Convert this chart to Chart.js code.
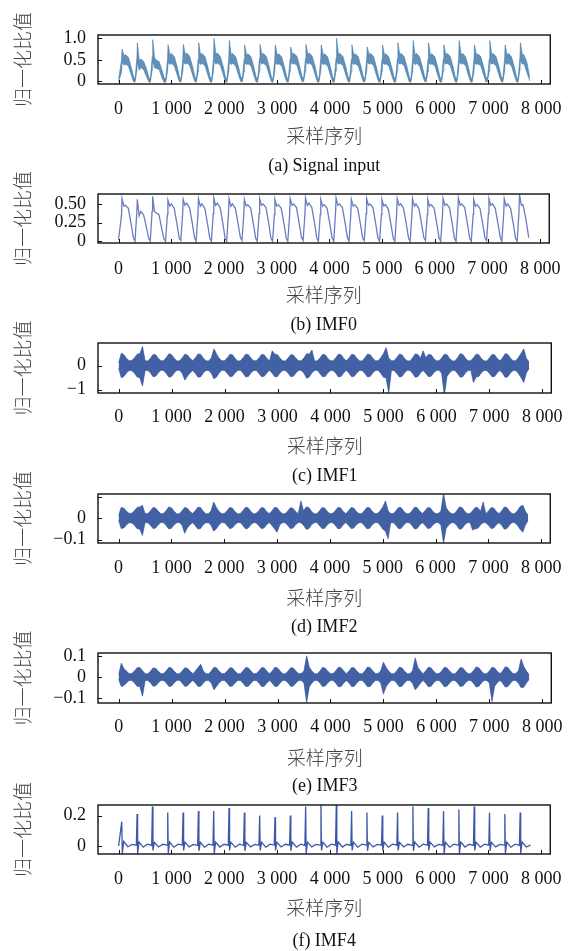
<!DOCTYPE html>
<html>
<head>
<meta charset="utf-8">
<script src="https://cdn.jsdelivr.net/npm/chart.js@4.4.1/dist/chart.umd.min.js"></script>
<style>
html, body { margin: 0; padding: 0; background: #fff; width: 576px; height: 951px; overflow: hidden; }
canvas { position: absolute; left: 0; }
</style>
</head>
<body>
<script>
// x axis (sample index)
var xTickVals = [0, 1000, 2000, 3000, 4000, 5000, 6000, 7000, 8000];
var xTickLabels = ['0', '1 000', '2 000', '3 000', '4 000', '5 000', '6 000', '7 000', '8 000'];

// y ticks per panel
var yTicksA = [0, 0.5, 1.0];      var yLabelsA = ['0', '0.5', '1.0'];
var yTicksB = [0, 0.25, 0.5];     var yLabelsB = ['0', '0.25', '0.50'];
var yTicksC = [-1, 0];            var yLabelsC = ['\u22121', '0'];
var yTicksD = [-0.1, 0, 0.1];     var yLabelsD = ['\u22120.1', '0', ''];
var yTicksE = [-0.1, 0, 0.1];     var yLabelsE = ['\u22120.1', '0', '0.1'];
var yTicksF = [0, 0.2];           var yLabelsF = ['0', '0.2'];

var captions = ['(a) Signal input', '(b) IMF0', '(c) IMF1', '(d) IMF2', '(e) IMF3', '(f) IMF4'];

// key samples of each beat (trough, rise, peak, dip, bump, plateau, fall, fall)
var beatX = [
  0, 56, 66, 101, 131, 186, 241, 281,
  311, 346, 356, 391, 421, 476, 531, 571,
  601, 636, 646, 681, 711, 766, 821, 861,
  891, 926, 936, 971, 1001, 1056, 1111, 1151,
  1181, 1216, 1226, 1261, 1291, 1346, 1401, 1441,
  1471, 1506, 1516, 1551, 1581, 1636, 1691, 1731,
  1761, 1796, 1806, 1841, 1871, 1926, 1981, 2021,
  2051, 2086, 2096, 2131, 2161, 2216, 2271, 2311,
  2341, 2376, 2386, 2421, 2451, 2506, 2561, 2601,
  2631, 2666, 2676, 2711, 2741, 2796, 2851, 2891,
  2921, 2956, 2966, 3001, 3031, 3086, 3141, 3181,
  3211, 3246, 3256, 3291, 3321, 3376, 3431, 3471,
  3501, 3536, 3546, 3581, 3611, 3666, 3721, 3761,
  3791, 3826, 3836, 3871, 3901, 3956, 4011, 4051,
  4081, 4116, 4126, 4161, 4191, 4246, 4301, 4341,
  4371, 4406, 4416, 4451, 4481, 4536, 4591, 4631,
  4661, 4696, 4706, 4741, 4771, 4826, 4881, 4921,
  4951, 4986, 4996, 5031, 5061, 5116, 5171, 5211,
  5241, 5276, 5286, 5321, 5351, 5406, 5461, 5501,
  5531, 5566, 5576, 5611, 5641, 5696, 5751, 5791,
  5821, 5856, 5866, 5901, 5931, 5986, 6041, 6081,
  6111, 6146, 6156, 6191, 6221, 6276, 6331, 6371,
  6401, 6436, 6446, 6481, 6511, 6566, 6621, 6661,
  6691, 6726, 6736, 6771, 6801, 6856, 6911, 6951,
  6981, 7016, 7026, 7061, 7091, 7146, 7201, 7241,
  7271, 7306, 7316, 7351, 7381, 7436, 7491, 7531,
  7561, 7596, 7606, 7641, 7671, 7726, 7781
];

// (a) signal input: upper / lower edge of the noisy trace
var signalHi = [
  0.05, 0.50, 0.75, 0.60, 0.62, 0.56, 0.32, 0.12,
  0.05, 0.55, 0.90, 0.48, 0.52, 0.46, 0.28, 0.10,
  0.05, 0.58, 0.97, 0.55, 0.50, 0.46, 0.26, 0.09,
  0.05, 0.52, 0.85, 0.62, 0.65, 0.57, 0.33, 0.11,
  0.06, 0.53, 0.86, 0.63, 0.66, 0.58, 0.34, 0.12,
  0.05, 0.52, 0.90, 0.62, 0.65, 0.57, 0.33, 0.11,
  0.05, 0.54, 1.00, 0.63, 0.66, 0.58, 0.34, 0.11,
  0.05, 0.55, 0.95, 0.62, 0.65, 0.57, 0.33, 0.12,
  0.06, 0.52, 0.85, 0.62, 0.64, 0.57, 0.33, 0.11,
  0.05, 0.53, 0.86, 0.63, 0.65, 0.58, 0.34, 0.11,
  0.05, 0.52, 0.85, 0.62, 0.64, 0.57, 0.33, 0.11,
  0.05, 0.53, 0.80, 0.63, 0.65, 0.58, 0.33, 0.12,
  0.06, 0.53, 0.86, 0.63, 0.66, 0.58, 0.34, 0.11,
  0.05, 0.52, 0.85, 0.62, 0.64, 0.57, 0.33, 0.11,
  0.05, 0.55, 1.00, 0.63, 0.65, 0.58, 0.34, 0.12,
  0.05, 0.52, 0.85, 0.62, 0.64, 0.57, 0.33, 0.11,
  0.06, 0.53, 0.80, 0.63, 0.65, 0.58, 0.33, 0.11,
  0.05, 0.52, 0.85, 0.62, 0.64, 0.56, 0.32, 0.11,
  0.05, 0.53, 0.90, 0.63, 0.65, 0.57, 0.33, 0.11,
  0.05, 0.53, 0.95, 0.62, 0.65, 0.57, 0.33, 0.12,
  0.06, 0.52, 0.90, 0.62, 0.64, 0.57, 0.33, 0.11,
  0.05, 0.53, 0.85, 0.63, 0.65, 0.58, 0.34, 0.11,
  0.05, 0.53, 0.95, 0.63, 0.65, 0.58, 0.33, 0.11,
  0.05, 0.52, 0.85, 0.62, 0.64, 0.57, 0.33, 0.11,
  0.06, 0.53, 0.95, 0.63, 0.65, 0.57, 0.33, 0.12,
  0.05, 0.53, 0.85, 0.62, 0.65, 0.57, 0.33, 0.11,
  0.05, 0.56, 0.90, 0.63, 0.62, 0.45, 0.10
];
var signalLo = [
  -0.01, 0.22, 0.45, 0.38, 0.40, 0.36, 0.14, 0.00,
  -0.02, 0.25, 0.45, 0.26, 0.32, 0.27, 0.10, -0.01,
  -0.02, 0.27, 0.48, 0.32, 0.30, 0.28, 0.08, -0.02,
  -0.02, 0.23, 0.44, 0.39, 0.42, 0.36, 0.14, -0.01,
  -0.01, 0.24, 0.45, 0.40, 0.43, 0.37, 0.15, 0.00,
  -0.02, 0.23, 0.45, 0.39, 0.42, 0.36, 0.14, -0.01,
  -0.02, 0.24, 0.46, 0.40, 0.43, 0.37, 0.15, -0.01,
  -0.02, 0.25, 0.45, 0.39, 0.42, 0.36, 0.14, 0.00,
  -0.01, 0.23, 0.44, 0.39, 0.41, 0.36, 0.14, -0.01,
  -0.02, 0.24, 0.45, 0.40, 0.42, 0.37, 0.15, -0.01,
  -0.02, 0.23, 0.44, 0.39, 0.41, 0.36, 0.14, -0.01,
  -0.02, 0.24, 0.45, 0.40, 0.42, 0.37, 0.14, 0.00,
  -0.01, 0.24, 0.46, 0.40, 0.43, 0.37, 0.15, -0.01,
  -0.02, 0.23, 0.44, 0.39, 0.41, 0.36, 0.14, -0.01,
  -0.02, 0.25, 0.46, 0.40, 0.42, 0.37, 0.15, 0.00,
  -0.02, 0.23, 0.44, 0.39, 0.41, 0.36, 0.14, -0.01,
  -0.01, 0.24, 0.45, 0.40, 0.42, 0.37, 0.14, -0.01,
  -0.02, 0.23, 0.44, 0.39, 0.41, 0.35, 0.13, -0.01,
  -0.02, 0.24, 0.45, 0.40, 0.42, 0.36, 0.14, -0.01,
  -0.02, 0.24, 0.45, 0.39, 0.42, 0.36, 0.14, 0.00,
  -0.01, 0.23, 0.44, 0.39, 0.41, 0.36, 0.14, -0.01,
  -0.02, 0.24, 0.45, 0.40, 0.42, 0.37, 0.15, -0.01,
  -0.02, 0.24, 0.46, 0.40, 0.42, 0.37, 0.14, -0.01,
  -0.02, 0.23, 0.44, 0.39, 0.41, 0.36, 0.14, -0.01,
  -0.01, 0.24, 0.45, 0.40, 0.42, 0.36, 0.14, 0.00,
  -0.02, 0.24, 0.45, 0.39, 0.42, 0.36, 0.14, -0.01,
  -0.02, 0.27, 0.50, 0.40, 0.41, 0.22, 0.01
];

// (b) IMF0
var imf0 = [
  0.02, 0.35, 0.57, 0.47, 0.48, 0.44, 0.22, 0.05,
  0.00, 0.38, 0.56, 0.34, 0.40, 0.35, 0.18, 0.04,
  0.00, 0.40, 0.60, 0.40, 0.38, 0.36, 0.16, 0.03,
  0.00, 0.36, 0.55, 0.47, 0.50, 0.44, 0.22, 0.04,
  0.01, 0.37, 0.56, 0.48, 0.51, 0.45, 0.23, 0.05,
  0.00, 0.36, 0.57, 0.47, 0.50, 0.44, 0.22, 0.04,
  0.00, 0.37, 0.58, 0.48, 0.51, 0.45, 0.23, 0.04,
  0.00, 0.38, 0.57, 0.47, 0.50, 0.44, 0.22, 0.05,
  0.01, 0.36, 0.56, 0.47, 0.49, 0.44, 0.22, 0.04,
  0.00, 0.37, 0.57, 0.48, 0.50, 0.45, 0.23, 0.04,
  0.00, 0.36, 0.56, 0.47, 0.49, 0.44, 0.22, 0.04,
  0.00, 0.37, 0.57, 0.48, 0.50, 0.45, 0.22, 0.05,
  0.01, 0.37, 0.58, 0.48, 0.51, 0.45, 0.23, 0.04,
  0.00, 0.36, 0.56, 0.47, 0.49, 0.44, 0.22, 0.04,
  0.00, 0.38, 0.58, 0.48, 0.50, 0.45, 0.23, 0.05,
  0.00, 0.36, 0.56, 0.47, 0.49, 0.44, 0.22, 0.04,
  0.01, 0.37, 0.57, 0.48, 0.50, 0.45, 0.22, 0.04,
  0.00, 0.36, 0.56, 0.47, 0.49, 0.43, 0.21, 0.04,
  0.00, 0.37, 0.57, 0.48, 0.50, 0.44, 0.22, 0.04,
  0.00, 0.37, 0.57, 0.47, 0.50, 0.44, 0.22, 0.05,
  0.01, 0.36, 0.56, 0.47, 0.49, 0.44, 0.22, 0.04,
  0.00, 0.37, 0.57, 0.48, 0.50, 0.45, 0.23, 0.04,
  0.00, 0.37, 0.58, 0.48, 0.50, 0.45, 0.22, 0.04,
  0.00, 0.36, 0.56, 0.47, 0.49, 0.44, 0.22, 0.04,
  0.01, 0.37, 0.57, 0.48, 0.50, 0.44, 0.22, 0.05,
  0.00, 0.37, 0.57, 0.47, 0.50, 0.44, 0.22, 0.04,
  0.00, 0.40, 0.62, 0.48, 0.49, 0.30, 0.05
];

// (c)-(e): envelope of the noisy IMFs, one reading every 50 samples (0 ... 7750)
var gridStep = 50;
var imf1Hi = [
  0.12, 0.52, 0.46, 0.30, 0.20, 0.22, 0.33, 0.48, 0.50, 0.80,
  0.21, 0.19, 0.31, 0.47, 0.45, 0.30, 0.20, 0.21, 0.34, 0.50,
  0.46, 0.31, 0.19, 0.20, 0.32, 0.48, 0.44, 0.30, 0.21, 0.33,
  0.49, 0.47, 0.31, 0.20, 0.19, 0.33, 0.70, 0.48, 0.30, 0.20,
  0.21, 0.32, 0.47, 0.45, 0.30, 0.19, 0.20, 0.33, 0.48, 0.46,
  0.31, 0.20, 0.21, 0.32, 0.47, 0.45, 0.30, 0.20, 0.62, 0.48,
  0.46, 0.31, 0.20, 0.19, 0.32, 0.46, 0.44, 0.30, 0.20, 0.21,
  0.33, 0.50, 0.48, 0.65, 0.20, 0.19, 0.32, 0.47, 0.45, 0.30,
  0.20, 0.21, 0.33, 0.48, 0.46, 0.30, 0.20, 0.32, 0.47, 0.45,
  0.30, 0.20, 0.19, 0.33, 0.48, 0.46, 0.31, 0.20, 0.21, 0.33,
  0.50, 0.75, 0.32, 0.21, 0.20, 0.33, 0.48, 0.46, 0.30, 0.20,
  0.19, 0.32, 0.49, 0.47, 0.31, 0.62, 0.33, 0.47, 0.45, 0.30,
  0.20, 0.21, 0.32, 0.48, 0.46, 0.30, 0.20, 0.19, 0.33, 0.50,
  0.47, 0.31, 0.20, 0.21, 0.33, 0.48, 0.46, 0.30, 0.20, 0.19,
  0.32, 0.47, 0.45, 0.30, 0.20, 0.33, 0.50, 0.47, 0.31, 0.20,
  0.21, 0.34, 0.52, 0.70, 0.30, 0.15
];
var imf1Lo = [
  -0.10, -0.50, -0.45, -0.30, -0.20, -0.21, -0.32, -0.47, -0.50, -0.85,
  -0.20, -0.20, -0.30, -0.46, -0.44, -0.30, -0.19, -0.20, -0.33, -0.48,
  -0.45, -0.30, -0.20, -0.19, -0.32, -0.60, -0.44, -0.30, -0.20, -0.33,
  -0.48, -0.46, -0.30, -0.20, -0.20, -0.32, -0.55, -0.47, -0.30, -0.19,
  -0.20, -0.32, -0.46, -0.44, -0.30, -0.20, -0.19, -0.32, -0.47, -0.45,
  -0.30, -0.20, -0.20, -0.33, -0.46, -0.44, -0.30, -0.19, -0.32, -0.47,
  -0.45, -0.30, -0.20, -0.20, -0.32, -0.46, -0.44, -0.30, -0.19, -0.20,
  -0.32, -0.52, -0.47, -0.30, -0.20, -0.19, -0.33, -0.46, -0.45, -0.30,
  -0.20, -0.20, -0.32, -0.47, -0.45, -0.30, -0.19, -0.32, -0.46, -0.44,
  -0.30, -0.20, -0.20, -0.33, -0.47, -0.45, -0.30, -0.20, -0.19, -0.32,
  -0.48, -0.50, -1.15, -0.20, -0.20, -0.32, -0.47, -0.45, -0.30, -0.19,
  -0.20, -0.32, -0.48, -0.46, -0.30, -0.20, -0.32, -0.46, -0.44, -0.30,
  -0.20, -0.19, -0.32, -1.25, -0.45, -0.30, -0.20, -0.20, -0.33, -0.48,
  -0.46, -0.30, -0.20, -0.19, -0.70, -0.47, -0.45, -0.30, -0.20, -0.20,
  -0.32, -0.46, -0.45, -0.30, -0.20, -0.32, -0.49, -0.46, -0.30, -0.20,
  -0.20, -0.33, -0.50, -0.70, -0.30, -0.12
];
var imf2Hi = [
  0.012, 0.050, 0.046, 0.032, 0.022, 0.023, 0.034, 0.050, 0.052, 0.060,
  0.022, 0.020, 0.033, 0.049, 0.047, 0.032, 0.021, 0.022, 0.035, 0.052,
  0.048, 0.032, 0.020, 0.021, 0.034, 0.050, 0.046, 0.031, 0.022, 0.034,
  0.051, 0.049, 0.032, 0.021, 0.020, 0.034, 0.075, 0.050, 0.031, 0.021,
  0.022, 0.033, 0.049, 0.047, 0.031, 0.020, 0.021, 0.034, 0.050, 0.048,
  0.032, 0.021, 0.022, 0.033, 0.049, 0.047, 0.031, 0.021, 0.033, 0.050,
  0.048, 0.032, 0.021, 0.020, 0.033, 0.048, 0.046, 0.031, 0.021, 0.080,
  0.034, 0.052, 0.050, 0.032, 0.021, 0.020, 0.033, 0.049, 0.047, 0.031,
  0.021, 0.022, 0.034, 0.050, 0.048, 0.031, 0.021, 0.033, 0.049, 0.047,
  0.031, 0.021, 0.020, 0.034, 0.050, 0.048, 0.032, 0.021, 0.022, 0.034,
  0.052, 0.080, 0.034, 0.022, 0.021, 0.034, 0.050, 0.048, 0.031, 0.021,
  0.020, 0.033, 0.051, 0.049, 0.032, 0.022, 0.034, 0.049, 0.047, 0.031,
  0.021, 0.022, 0.033, 0.115, 0.048, 0.031, 0.021, 0.020, 0.034, 0.052,
  0.049, 0.032, 0.021, 0.022, 0.034, 0.050, 0.048, 0.031, 0.075, 0.020,
  0.033, 0.049, 0.047, 0.031, 0.021, 0.034, 0.052, 0.049, 0.032, 0.021,
  0.022, 0.035, 0.054, 0.060, 0.032, 0.014
];
var imf2Lo = [
  -0.010, -0.048, -0.045, -0.031, -0.021, -0.022, -0.033, -0.049, -0.050, -0.080,
  -0.021, -0.021, -0.032, -0.048, -0.046, -0.031, -0.020, -0.021, -0.034, -0.050,
  -0.047, -0.031, -0.021, -0.020, -0.033, -0.070, -0.045, -0.031, -0.021, -0.034,
  -0.050, -0.048, -0.031, -0.021, -0.021, -0.033, -0.060, -0.049, -0.031, -0.020,
  -0.021, -0.033, -0.048, -0.046, -0.031, -0.021, -0.020, -0.033, -0.049, -0.047,
  -0.031, -0.021, -0.021, -0.034, -0.048, -0.046, -0.031, -0.020, -0.033, -0.049,
  -0.065, -0.031, -0.021, -0.021, -0.033, -0.048, -0.046, -0.031, -0.020, -0.021,
  -0.033, -0.051, -0.049, -0.031, -0.021, -0.020, -0.034, -0.048, -0.047, -0.031,
  -0.021, -0.021, -0.033, -0.049, -0.047, -0.031, -0.020, -0.033, -0.048, -0.046,
  -0.031, -0.021, -0.021, -0.034, -0.049, -0.047, -0.031, -0.021, -0.020, -0.033,
  -0.051, -0.060, -0.095, -0.021, -0.021, -0.033, -0.049, -0.047, -0.031, -0.020,
  -0.021, -0.033, -0.050, -0.048, -0.031, -0.021, -0.033, -0.048, -0.046, -0.031,
  -0.021, -0.020, -0.033, -0.115, -0.047, -0.031, -0.021, -0.021, -0.034, -0.051,
  -0.048, -0.031, -0.021, -0.020, -0.055, -0.049, -0.047, -0.031, -0.021, -0.021,
  -0.033, -0.048, -0.046, -0.031, -0.021, -0.033, -0.051, -0.048, -0.031, -0.020,
  -0.021, -0.034, -0.052, -0.065, -0.031, -0.012
];
var imf3Hi = [
  0.010, 0.065, 0.040, 0.027, 0.016, 0.017, 0.028, 0.044, 0.045, 0.030,
  0.016, 0.015, 0.027, 0.043, 0.041, 0.027, 0.016, 0.017, 0.029, 0.046,
  0.042, 0.027, 0.015, 0.016, 0.028, 0.044, 0.041, 0.027, 0.016, 0.028,
  0.045, 0.060, 0.028, 0.016, 0.015, 0.028, 0.046, 0.043, 0.027, 0.016,
  0.017, 0.028, 0.044, 0.042, 0.027, 0.016, 0.016, 0.029, 0.045, 0.043,
  0.028, 0.016, 0.017, 0.028, 0.045, 0.043, 0.027, 0.016, 0.028, 0.046,
  0.043, 0.028, 0.016, 0.015, 0.028, 0.044, 0.042, 0.027, 0.016, 0.017,
  0.030, 0.100, 0.046, 0.028, 0.016, 0.015, 0.028, 0.045, 0.042, 0.027,
  0.016, 0.017, 0.029, 0.046, 0.044, 0.028, 0.016, 0.028, 0.045, 0.043,
  0.027, 0.016, 0.016, 0.029, 0.047, 0.044, 0.028, 0.016, 0.017, 0.029,
  0.070, 0.046, 0.028, 0.016, 0.016, 0.028, 0.046, 0.043, 0.027, 0.016,
  0.015, 0.030, 0.090, 0.046, 0.028, 0.016, 0.029, 0.046, 0.043, 0.027,
  0.016, 0.017, 0.028, 0.046, 0.043, 0.028, 0.016, 0.015, 0.028, 0.045,
  0.042, 0.027, 0.016, 0.017, 0.029, 0.047, 0.044, 0.028, 0.016, 0.016,
  0.028, 0.046, 0.043, 0.027, 0.016, 0.028, 0.048, 0.045, 0.028, 0.016,
  0.017, 0.030, 0.085, 0.050, 0.028, 0.012
];
var imf3Lo = [
  -0.010, -0.045, -0.040, -0.027, -0.016, -0.016, -0.028, -0.044, -0.044, -0.090,
  -0.016, -0.016, -0.027, -0.043, -0.041, -0.027, -0.016, -0.016, -0.028, -0.045,
  -0.042, -0.027, -0.016, -0.015, -0.028, -0.044, -0.041, -0.027, -0.016, -0.028,
  -0.045, -0.043, -0.028, -0.016, -0.016, -0.028, -0.060, -0.043, -0.027, -0.016,
  -0.016, -0.028, -0.044, -0.042, -0.027, -0.016, -0.016, -0.029, -0.045, -0.043,
  -0.028, -0.016, -0.016, -0.028, -0.045, -0.043, -0.027, -0.016, -0.028, -0.045,
  -0.043, -0.028, -0.016, -0.016, -0.028, -0.044, -0.042, -0.027, -0.016, -0.016,
  -0.029, -0.120, -0.046, -0.028, -0.016, -0.016, -0.028, -0.045, -0.042, -0.027,
  -0.016, -0.016, -0.029, -0.046, -0.044, -0.028, -0.016, -0.028, -0.045, -0.043,
  -0.027, -0.016, -0.016, -0.029, -0.046, -0.044, -0.028, -0.016, -0.016, -0.029,
  -0.080, -0.046, -0.028, -0.016, -0.016, -0.028, -0.046, -0.043, -0.027, -0.016,
  -0.016, -0.029, -0.060, -0.046, -0.028, -0.016, -0.029, -0.046, -0.043, -0.027,
  -0.016, -0.016, -0.028, -0.046, -0.043, -0.028, -0.016, -0.016, -0.028, -0.045,
  -0.042, -0.027, -0.016, -0.016, -0.029, -0.047, -0.044, -0.028, -0.016, -0.016,
  -0.028, -0.115, -0.043, -0.027, -0.016, -0.028, -0.047, -0.045, -0.028, -0.016,
  -0.016, -0.029, -0.050, -0.048, -0.028, -0.012
];

// (f) IMF4: spike / dip / settle points of each beat
var imf4X = [
  0, 60, 70, 96, 176, 256,
  336, 350, 360, 386, 466, 546,
  626, 640, 650, 676, 756, 836,
  916, 930, 940, 966, 1046, 1126,
  1206, 1220, 1230, 1256, 1336, 1416,
  1496, 1510, 1520, 1546, 1626, 1706,
  1786, 1800, 1810, 1836, 1916, 1996,
  2076, 2090, 2100, 2126, 2206, 2286,
  2366, 2380, 2390, 2416, 2496, 2576,
  2656, 2670, 2680, 2706, 2786, 2866,
  2946, 2960, 2970, 2996, 3076, 3156,
  3236, 3250, 3260, 3286, 3366, 3446,
  3526, 3540, 3550, 3576, 3656, 3736,
  3816, 3830, 3840, 3866, 3946, 4026,
  4106, 4120, 4130, 4156, 4236, 4316,
  4396, 4410, 4420, 4446, 4526, 4606,
  4686, 4700, 4710, 4736, 4816, 4896,
  4976, 4990, 5000, 5026, 5106, 5186,
  5266, 5280, 5290, 5316, 5396, 5476,
  5556, 5570, 5580, 5606, 5686, 5766,
  5846, 5860, 5870, 5896, 5976, 6056,
  6136, 6150, 6160, 6186, 6266, 6346,
  6426, 6440, 6450, 6476, 6556, 6636,
  6716, 6730, 6740, 6766, 6846, 6926,
  7006, 7020, 7030, 7056, 7136, 7216,
  7296, 7310, 7320, 7346, 7426, 7506,
  7586, 7600, 7610, 7636, 7716, 7796
];
var imf4 = [
  0.000, 0.16, -0.050, 0.030, -0.005, 0.010,
  0.005, 0.21, -0.050, 0.025, -0.008, 0.012,
  0.004, 0.26, -0.030, 0.024, -0.007, 0.011,
  0.005, 0.22, -0.050, 0.026, -0.008, 0.012,
  0.006, 0.22, -0.030, 0.025, -0.006, 0.010,
  0.004, 0.23, -0.032, 0.024, -0.008, 0.012,
  0.005, 0.23, -0.050, 0.026, -0.007, 0.011,
  0.005, 0.25, -0.030, 0.025, -0.008, 0.012,
  0.004, 0.22, -0.032, 0.024, -0.006, 0.010,
  0.005, 0.20, -0.030, 0.025, -0.008, 0.012,
  0.006, 0.19, -0.030, 0.024, -0.007, 0.011,
  0.005, 0.20, -0.032, 0.026, -0.008, 0.012,
  0.004, 0.26, -0.050, 0.025, -0.006, 0.010,
  0.005, 0.27, -0.030, 0.024, -0.008, 0.012,
  0.005, 0.27, -0.050, 0.026, -0.007, 0.011,
  0.004, 0.23, -0.030, 0.025, -0.008, 0.012,
  0.006, 0.22, -0.032, 0.024, -0.006, 0.010,
  0.005, 0.20, -0.030, 0.025, -0.008, 0.012,
  0.005, 0.22, -0.030, 0.024, -0.007, 0.011,
  0.004, 0.26, -0.032, 0.026, -0.008, 0.012,
  0.005, 0.25, -0.030, 0.025, -0.006, 0.010,
  0.005, 0.23, -0.050, 0.024, -0.008, 0.012,
  0.006, 0.24, -0.050, 0.026, -0.007, 0.011,
  0.004, 0.26, -0.030, 0.025, -0.008, 0.012,
  0.005, 0.22, -0.032, 0.024, -0.006, 0.010,
  0.005, 0.21, -0.050, 0.025, -0.008, 0.012,
  0.004, 0.22, -0.050, 0.026, -0.007, 0.005
];

var serif = '"Liberation Serif", "Times New Roman", serif';
var cjk = '"Noto Sans CJK SC", sans-serif';

function pairs(xs, ys) {
    return ys.map(function (y, i) { return { x: xs[i], y: y }; });
}
function gridPairs(ys) {
    return ys.map(function (y, i) { return { x: i * gridStep, y: y }; });
}

// frame round the plot area plus inward tick marks
var framePlugin = {
    id: 'frame',
    afterDatasetsDraw: function (chart) {
        var a = chart.chartArea, ctx = chart.ctx;
        var sx = chart.scales.x, sy = chart.scales.y;
        ctx.save();
        ctx.strokeStyle = '#111';
        ctx.lineWidth = 1.4;
        ctx.strokeRect(a.left, a.top, a.right - a.left, a.bottom - a.top);
        ctx.lineWidth = 1;
        sx.ticks.forEach(function (t) {
            var px = Math.round(sx.getPixelForValue(t.value)) + 0.5;
            ctx.beginPath(); ctx.moveTo(px, a.bottom); ctx.lineTo(px, a.bottom - 4); ctx.stroke();
        });
        sy.ticks.forEach(function (t) {
            var py = Math.round(sy.getPixelForValue(t.value)) + 0.5;
            ctx.beginPath(); ctx.moveTo(a.left, py); ctx.lineTo(a.left + 4, py); ctx.stroke();
        });
        ctx.restore();
    }
};

function makePanel(p) {
    var padTop = 30;
    var capLH = 18 * 1.2, titleLH = 19 * 1.2;
    var boxH = p.bottom - p.top;
    var xH = p.capY - p.bottom - capLH / 2;
    var h = Math.ceil(padTop + boxH + xH + capLH);
    var cv = document.createElement('canvas');
    cv.width = 576;
    cv.height = h;
    cv.style.top = (p.top - padTop) + 'px';
    document.body.appendChild(cv);

    new Chart(cv, {
        type: 'line',
        data: { datasets: p.datasets },
        options: {
            responsive: false,
            animation: false,
            layout: { padding: { top: padTop, left: 0, right: 23, bottom: h - (padTop + boxH + xH + capLH) } },
            elements: { point: { radius: 0 }, line: { tension: 0 } },
            plugins: {
                legend: { display: false },
                tooltip: { enabled: false },
                title: {
                    display: true, position: 'bottom', fullSize: false,
                    text: p.caption, color: '#111', padding: 0,
                    font: { family: serif, size: 18, weight: 'normal' }
                }
            },
            scales: {
                x: {
                    type: 'linear', min: -390, max: 8170,
                    grid: { display: false, drawTicks: false }, border: { display: false },
                    afterBuildTicks: function (s) { s.ticks = xTickVals.map(function (v) { return { value: v }; }); },
                    afterFit: function (s) { s.height = xH; },
                    ticks: {
                        autoSkip: false, maxRotation: 0, padding: p.tickY - p.bottom - 9,
                        color: '#111', font: { family: serif, size: 18 },
                        callback: function (v, i) { return xTickLabels[i]; }
                    },
                    title: {
                        display: true, text: '采样序列', color: '#444',
                        font: { family: cjk, size: 19, weight: '300' },
                        padding: { top: 0, bottom: (p.capY - capLH / 2) - p.titleY - titleLH / 2 }
                    }
                },
                y: {
                    min: p.yMin, max: p.yMax,
                    grid: { display: false, drawTicks: false }, border: { display: false },
                    afterBuildTicks: function (s) { s.ticks = p.yTicks.map(function (v) { return { value: v }; }); },
                    afterFit: function (s) { s.width = 98; },
                    ticks: {
                        autoSkip: false, padding: 12, color: '#111', font: { family: serif, size: 18 },
                        callback: function (v, i) { return p.yLabels[i]; }
                    },
                    title: {
                        display: true, text: '归一化比值', color: '#444',
                        font: { family: cjk, size: 19, weight: '300' },
                        padding: { top: 11, bottom: 0 }
                    }
                }
            }
        },
        plugins: [framePlugin]
    });
}

function band(hi, lo, color) {
    return [
        { data: hi, borderColor: color, borderWidth: 0.7, backgroundColor: color, fill: '+1' },
        { data: lo, borderColor: color, borderWidth: 0.7, fill: false }
    ];
}

var dark = 'rgba(50, 82, 156, 0.92)';

makePanel({ top: 35, bottom: 84, tickY: 107, titleY: 136, capY: 166, yMin: -0.06, yMax: 1.078,
    yTicks: yTicksA, yLabels: yLabelsA, caption: captions[0],
    datasets: band(pairs(beatX, signalHi), pairs(beatX, signalLo), 'rgba(62, 120, 168, 0.82)') });

makePanel({ top: 194, bottom: 243, tickY: 267, titleY: 295, capY: 325, yMin: -0.023, yMax: 0.632,
    yTicks: yTicksB, yLabels: yLabelsB, caption: captions[1],
    datasets: [{ data: pairs(beatX, imf0), borderColor: 'rgb(108, 124, 192)', borderWidth: 1.3, fill: false }] });

makePanel({ top: 343, bottom: 393, tickY: 415, titleY: 446, capY: 476, yMin: -1.14, yMax: 0.945,
    yTicks: yTicksC, yLabels: yLabelsC, caption: captions[2],
    datasets: band(gridPairs(imf1Hi), gridPairs(imf1Lo), dark) });

makePanel({ top: 494, bottom: 543, tickY: 566, titleY: 598, capY: 627, yMin: -0.115, yMax: 0.112,
    yTicks: yTicksD, yLabels: yLabelsD, caption: captions[3],
    datasets: band(gridPairs(imf2Hi), gridPairs(imf2Lo), dark) });

makePanel({ top: 653, bottom: 703, tickY: 725, titleY: 758, capY: 786, yMin: -0.122, yMax: 0.113,
    yTicks: yTicksE, yLabels: yLabelsE, caption: captions[4],
    datasets: band(gridPairs(imf3Hi), gridPairs(imf3Lo), dark) });

makePanel({ top: 805, bottom: 854, tickY: 877, titleY: 908, capY: 941, yMin: -0.053, yMax: 0.27,
    yTicks: yTicksF, yLabels: yLabelsF, caption: captions[5],
    datasets: [{ data: pairs(imf4X, imf4), borderColor: 'rgb(60, 88, 168)', borderWidth: 1.3, fill: false }] });
</script>
</body>
</html>
